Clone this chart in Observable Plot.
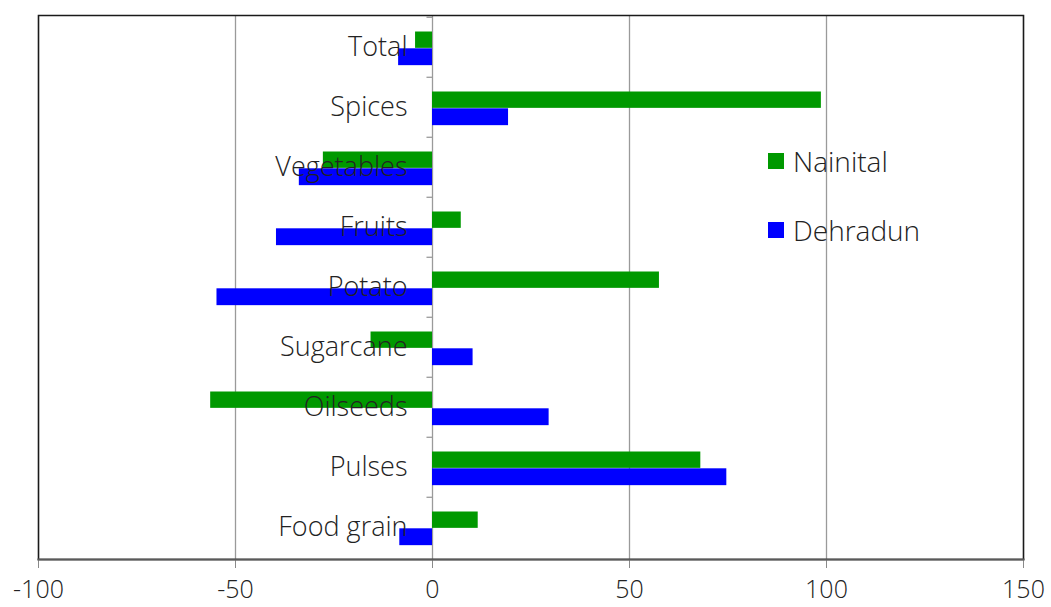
<!DOCTYPE html>
<html>
<head>
<meta charset="utf-8">
<script src="https://cdn.jsdelivr.net/npm/d3@7"></script>
<script src="https://cdn.jsdelivr.net/npm/@observablehq/plot@0.6"></script>
<style>
  html, body { margin: 0; padding: 0; background: #fff; }
  #wrap { position: relative; width: 1051px; height: 607px; font-family: "Open Sans", sans-serif; font-weight: 300; }
  .leg { position: absolute; display: flex; align-items: center; font-size: 28px; color: #222; white-space: nowrap; }
  .sw { width: 16px; height: 16px; margin-right: 9px; }
</style>
</head>
<body>
<div id="wrap"></div>
<script>
const categories = ["Food grain", "Pulses", "Oilseeds", "Sugarcane", "Potato", "Fruits", "Vegetables", "Spices", "Total"];
const nainital = [11.6, 68.1, -56.3, -15.6, 57.6, 7.3, -27.7, 98.7, -4.3];
const dehradun = [-8.3, 74.7, 29.6, 10.3, -54.7, -39.6, -33.8, 19.3, -8.6];
const xTicks = [-100, -50, 0, 50, 100, 150];
const seriesNames = ["Nainital", "Dehradun"];
const seriesColors = ["#009900", "#0000ff"];

const rowsN = categories.map((c, i) => ({category: c, value: nainital[i]}));
const rowsD = categories.map((c, i) => ({category: c, value: dehradun[i]}));

const W = 1051, H = 607, mt = 15, mb = 48, ml = 38, mr = 28;
const bw = (H - mt - mb) / categories.length;

const chart = Plot.plot({
  width: W,
  height: H,
  marginTop: mt,
  marginBottom: mb,
  marginLeft: ml,
  marginRight: mr,
  style: {fontFamily: "'Open Sans', sans-serif", fontWeight: 300, fontSize: "27px", color: "#222", background: "#fff", overflow: "visible"},
  x: {domain: [-100, 150]},
  y: {domain: categories.slice().reverse(), type: "band", padding: 0, axis: null},
  marks: [
    Plot.gridX(xTicks, {stroke: "#9a9a9a", strokeOpacity: 1, strokeWidth: 1.3}),
    Plot.barX(rowsN, {x: "value", y: "category", fill: seriesColors[0], insetTop: 14.5, insetBottom: bw - 31.3}),
    Plot.barX(rowsD, {x: "value", y: "category", fill: seriesColors[1], insetTop: 31.3, insetBottom: bw - 48.6}),
    Plot.ruleY(categories, {y: d => d, x1: -1.4, x2: 0, dy: -bw / 2, stroke: "#9a9a9a", strokeWidth: 1.3}),
    Plot.text(categories, {y: d => d, x: 0, text: d => d, dx: -25, textAnchor: "end", fill: "#222", fontSize: 27, fontWeight: 300}),
    Plot.frame({stroke: "#1a1a1a", strokeWidth: 1.5}),
    Plot.axisX(xTicks, {label: null, tickSize: 9, tickPadding: 12, stroke: "#8a8a8a", fill: "#222", fontSize: 25, fontWeight: 300, tickFormat: d => String(d).replace("\u2212", "-")}),
    Plot.frame({anchor: "bottom", stroke: "#5a5a5a", strokeWidth: 2.2})
  ]
});

const wrap = document.getElementById("wrap");
wrap.appendChild(chart);

const legPos = [{left: 768, top: 142}, {left: 768, top: 211}];
seriesNames.forEach((name, i) => {
  const d = document.createElement("div");
  d.className = "leg";
  d.style.left = legPos[i].left + "px";
  d.style.top = legPos[i].top + "px";
  const sw = document.createElement("div");
  sw.className = "sw";
  sw.style.background = seriesColors[i];
  const t = document.createElement("span");
  t.textContent = name;
  d.appendChild(sw);
  d.appendChild(t);
  wrap.appendChild(d);
});
</script>
</body>
</html>
